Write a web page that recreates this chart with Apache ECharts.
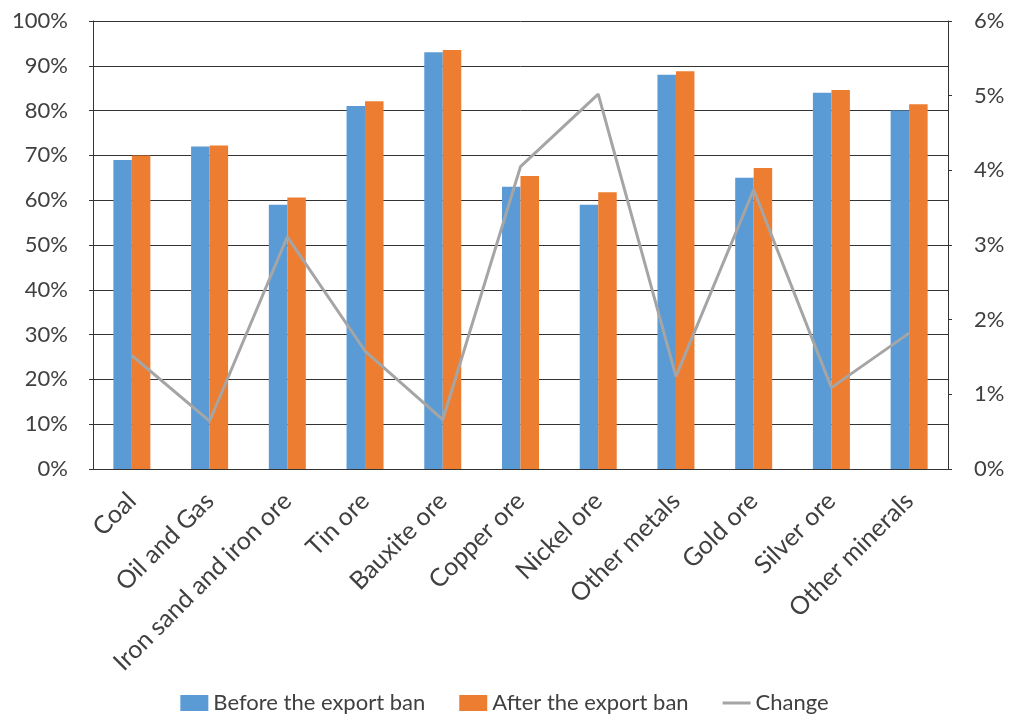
<!DOCTYPE html>
<html>
<head>
<meta charset="utf-8">
<style>
  html, body { margin: 0; padding: 0; background: #fff; }
  #chart { width: 1009px; height: 720px; }
</style>
<script src="https://cdn.jsdelivr.net/npm/echarts@6/dist/echarts.min.js"></script>
</head>
<body>
<div id="chart"></div>
<script>
// Sector categories
const categories = [
  'Coal', 'Oil and Gas', 'Iron sand and iron ore', 'Tin ore', 'Bauxite ore',
  'Copper ore', 'Nickel ore', 'Other metals', 'Gold ore', 'Silver ore', 'Other minerals'
];
// Share (%) before and after the export ban — left axis
const beforeBan = [69, 72, 59, 81, 93, 63, 59, 88, 65, 84, 80];
const afterBan  = [70, 72.2, 60.6, 82.1, 93.5, 65.4, 61.8, 88.8, 67.2, 84.6, 81.4];
// Change (%) — right axis
const change = [1.52, 0.64, 3.11, 1.58, 0.66, 4.05, 5.02, 1.24, 3.74, 1.09, 1.82];

const FONT = 'Lato';
const TEXT = '#404040';
const AXIS = '#333333';

// thin horizontal stroke for the line series' legend key; the two tiny
// corner specks keep the icon's bounding box at the full key size
const LINE_KEY = 'path://M0,0 L0.01,0 L0.01,0.01 Z M0,6.5 L28,6.5 L28,9.5 L0,9.5 Z M27.99,16 L28,16 L28,15.99 Z';

const chart = echarts.init(document.getElementById('chart'));
chart.setOption({
  animation: false,
  textStyle: { fontFamily: FONT, color: TEXT },
  grid: { left: 93, right: 61, top: 21, bottom: 251, containLabel: false },
  legend: {
    bottom: 1,
    left: 'center',
    itemWidth: 28,
    itemHeight: 16,
    itemGap: 34,
    textStyle: { fontFamily: FONT, fontSize: 22, color: TEXT },
    data: [
      { name: 'Before the export ban', icon: 'rect' },
      { name: 'After the export ban', icon: 'rect' },
      { name: 'Change', icon: LINE_KEY }
    ]
  },
  xAxis: {
    type: 'category',
    data: categories,
    boundaryGap: true,
    axisLine: { show: true, lineStyle: { color: AXIS, width: 1 } },
    axisTick: { show: false },
    axisLabel: {
      interval: 0,
      rotate: 45,
      margin: 28,
      fontFamily: FONT,
      fontSize: 25,
      color: TEXT
    }
  },
  yAxis: [
    {
      type: 'value',
      min: 0, max: 100, interval: 10,
      axisLine: { show: true, lineStyle: { color: AXIS, width: 1 } },
      axisTick: { show: true, length: 4, lineStyle: { color: AXIS } },
      splitLine: { show: true, lineStyle: { color: AXIS, width: 1 } },
      axisLabel: {
        formatter: '{value}%',
        margin: 25,
        fontFamily: FONT, fontSize: 22, color: TEXT
      }
    },
    {
      type: 'value',
      min: 0, max: 6, interval: 1,
      position: 'right',
      axisLine: { show: true, lineStyle: { color: AXIS, width: 1 } },
      axisTick: { show: true, length: 4, lineStyle: { color: AXIS } },
      splitLine: { show: false },
      axisLabel: {
        formatter: '{value}%',
        margin: 26,
        fontFamily: FONT, fontSize: 22, color: TEXT
      }
    }
  ],
  series: [
    {
      name: 'Before the export ban',
      type: 'bar',
      data: beforeBan,
      yAxisIndex: 0,
      barWidth: 18.5,
      barGap: '0%',
      itemStyle: { color: '#5B9BD5' }
    },
    {
      name: 'After the export ban',
      type: 'bar',
      data: afterBan,
      yAxisIndex: 0,
      barWidth: 18.5,
      barGap: '0%',
      itemStyle: { color: '#ED7D31' }
    },
    {
      name: 'Change',
      type: 'line',
      data: change,
      yAxisIndex: 1,
      symbol: 'none',
      lineStyle: { color: '#A5A5A5', width: 3 },
      itemStyle: { color: '#A5A5A5' },
      z: 5
    }
  ]
});
</script>
</body>
</html>
